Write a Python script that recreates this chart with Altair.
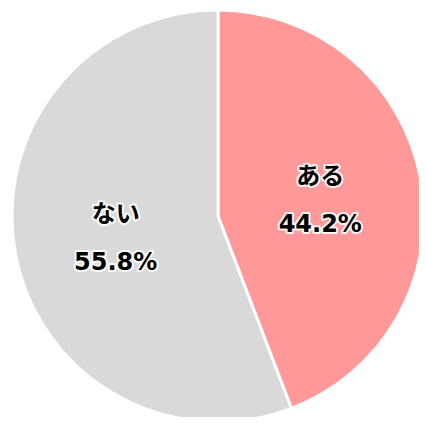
import altair as alt
import pandas as pd

labels = ["ある", "ない"]
values = [44.2, 55.8]
colors = ["#FF9999", "#D9D9D9"]
order = [0, 1]

df = pd.DataFrame({
    "label": labels,
    "value": values,
    "order": order,
    "pct": [f"{v:.1f}%" for v in values],
})

CX, CY = 210, 208

base = alt.Chart(df).encode(
    theta=alt.Theta("value:Q", stack=True),
    order=alt.Order("order:Q"),
    x=alt.value(CX),
    y=alt.value(CY),
)

pie = base.mark_arc(outerRadius=206, stroke="white", strokeWidth=3).encode(
    color=alt.Color("label:N", scale=alt.Scale(domain=labels, range=colors), legend=None)
)

font = "DejaVu Sans, Noto Sans CJK JP"

def txt(field, dy, halo):
    kw = dict(radius=104, dy=dy, font=font, fontSize=24, fontWeight="bold",
              align="center", baseline="middle")
    if halo:
        kw.update(stroke="white", strokeWidth=4, strokeJoin="round", fill="white",
                  strokeOpacity=0.9)
    else:
        kw.update(fill="black")
    return base.mark_text(**kw).encode(text=f"{field}:N")

chart = alt.layer(
    pie,
    txt("label", -20, True), txt("pct", 28, True),
    txt("label", -20, False), txt("pct", 28, False),
).properties(
    width=411, height=409, padding=0,
    autosize=alt.AutoSizeParams(type="none"),
).configure_view(stroke=None)

chart.save("out.html", embed_options={"renderer": "svg", "actions": False})
